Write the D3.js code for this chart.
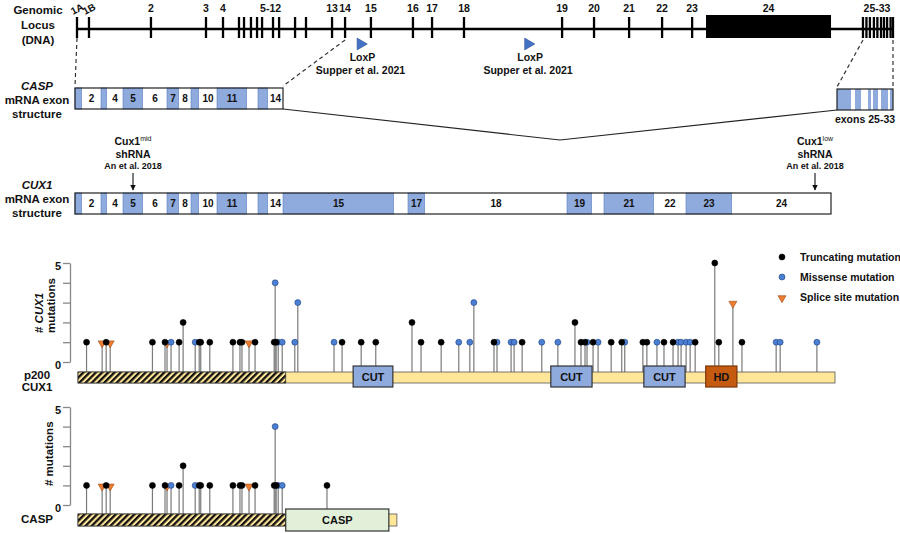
<!DOCTYPE html>
<html><head><meta charset="utf-8">
<script src="https://cdn.jsdelivr.net/npm/d3@7"></script>
<style>
body{margin:0;background:#fff}
svg text{font-family:"Liberation Sans",Arial,sans-serif;font-weight:bold;fill:#111}
</style>
</head><body>
<svg id="c" width="900" height="533"></svg>
<script>
// ---------------- DATA ----------------
// Genomic locus (kb from exon 1A)
const genomicLength = 470;
const genomicExonTicks = [0, 6.9, 42.6, 74.3, 84.1, 93.3, 96.2, 100.2, 103.7, 106.6, 112.9, 116.4, 125.6, 131.9,
  146.9, 154.4, 169.3, 193.5, 204.5, 222.9, 279.4, 297.8, 318.0, 337.0, 354.3];
const genomicExon24 = [362.3, 434.3];
const genomicExons25to33 = [452.7, 454.7, 456.7, 459.0, 461.0, 463.1, 464.8, 466.6, 468.6, 470];
const genomicLabels = [
  {t:"1A", kb:0, rot:true}, {t:"1B", kb:6.9, rot:true}, {t:"2", kb:42.6}, {t:"3", kb:74.3}, {t:"4", kb:84.1},
  {t:"5-12", kb:111.5}, {t:"13", kb:146.9}, {t:"14", kb:154.4}, {t:"15", kb:169.3}, {t:"16", kb:193.5},
  {t:"17", kb:204.5}, {t:"18", kb:222.9}, {t:"19", kb:279.4}, {t:"20", kb:297.8}, {t:"21", kb:318.0},
  {t:"22", kb:337.0}, {t:"23", kb:354.3}, {t:"24", kb:398.3}, {t:"25-33", kb:460.8}];
const loxPSites = [163.3, 259.8];
const loxPLabel = ["LoxP", "Supper et al. 2021"];

// mRNA exon structure (transcript units); exon i spans bounds[i-1]..bounds[i]
const exonBounds = [0, 7, 26, 32, 48, 68, 92, 104, 116, 124, 142, 172, 183, 193, 208,
  319, 333, 350, 492, 517, 529, 579, 611, 657, 756];
const caspExonCount = 14;
const cux1ExonCount = 24;
const labelledExons = [2, 4, 5, 6, 7, 8, 10, 11, 14, 15, 17, 18, 19, 21, 22, 23, 24];
const caspExons25to33Bounds = [762, 776, 780, 786, 793, 796, 798, 803, 806, 813, 815, 818];
const transcriptMax = 818;
const shRNAs = [{sup:"mid", pos:58}, {sup:"low", pos:740}];

// Proteins (amino acids)
const cux1Length = 1505;
const sharedRegionEnd = 413;
const cux1Domains = [{n:"CUT", s:547, e:626}, {n:"CUT", s:940, e:1022}, {n:"CUT", s:1125, e:1207}, {n:"HD", s:1248, e:1310}];
const caspLength = 634;
const caspDomains = [{n:"CASP", s:413, e:618}];

// Mutations: [aa position, count, type]  T=truncating, M=missense, S=splice
const cux1Mutations = [
  [17,1,"T"],[48,1,"S"],[56,1,"T"],[64,1,"S"],[148,1,"T"],[177,1,"S"],[173,1,"T"],[185,1,"M"],[201,1,"T"],
  [209,2,"T"],[233,1,"M"],[241,1,"T"],[244,1,"T"],[262,1,"T"],[308,1,"T"],[322,1,"T"],[326,1,"T"],[340,1,"S"],
  [352,1,"T"],[392,4,"M"],[398,1,"M"],[390,1,"T"],[394,1,"T"],[406,1,"M"],[431,1,"M"],[437,3,"M"],[509,1,"M"],
  [525,1,"T"],[563,1,"T"],[592,1,"T"],[664,2,"T"],[682,1,"T"],[722,1,"T"],[757,1,"M"],[779,1,"M"],[787,3,"M"],
  [827,1,"T"],[833,1,"M"],[861,1,"M"],[867,1,"M"],[883,1,"T"],[922,1,"M"],[954,1,"M"],[988,2,"T"],[1000,1,"T"],
  [1012,1,"M"],[1008,1,"T"],[1024,1,"T"],[1034,1,"M"],[1060,1,"T"],[1087,1,"M"],[1081,1,"T"],[1123,1,"T"],
  [1131,1,"T"],[1151,1,"M"],[1165,1,"T"],[1193,1,"M"],[1199,1,"M"],[1209,1,"M"],[1217,1,"M"],[1183,1,"T"],
  [1227,1,"T"],[1266,5,"T"],[1274,1,"T"],[1302,3,"S"],[1320,1,"T"],[1388,1,"M"],[1396,1,"M"],[1469,1,"M"]];
const caspOnlyMutations = [[495,1,"T"]];
const mutationTypes = [{k:"T", label:"Truncating mutation"}, {k:"M", label:"Missense mutation"}, {k:"S", label:"Splice site mutation"}];
const yTicks = [0, 1, 2, 3, 4, 5];

// ---------------- DRAWING ----------------
const svg = d3.select("#c");
const C = {blue:"#8faadc", missense:"#4a7fd4", splice:"#ed7d31", yellow:"#ffe699", hd:"#c55a11", casp:"#e2f0d9", stem:"#7a7a7a"};

const defs = svg.append("defs");
const pat = defs.append("pattern").attr("id","hatch").attr("patternUnits","userSpaceOnUse")
  .attr("width",4.4).attr("height",4.4).attr("patternTransform","rotate(45)");
pat.append("rect").attr("width",4.4).attr("height",4.4).attr("fill",C.yellow);
pat.append("rect").attr("width",2.3).attr("height",4.4).attr("fill","#111");

// ---- genomic locus
const gx = d3.scaleLinear().domain([0, genomicLength]).range([77, 893]);
const gY = 29;
const gG = svg.append("g");
gG.append("line").attr("x1",gx(0)).attr("x2",gx(genomicLength)).attr("y1",gY).attr("y2",gY).attr("stroke","#000").attr("stroke-width",2.6);
gG.selectAll(".gt").data(genomicExonTicks.concat(genomicExons25to33)).join("line")
  .attr("x1",d=>gx(d)).attr("x2",d=>gx(d)).attr("y1",17).attr("y2",38).attr("stroke","#000").attr("stroke-width",2.3);
gG.append("rect").attr("x",gx(genomicExon24[0])).attr("width",gx(genomicExon24[1])-gx(genomicExon24[0]))
  .attr("y",15).attr("height",23).attr("fill","#000");
gG.selectAll(".gl").data(genomicLabels).join("text")
  .attr("font-size",d=>d.rot?10:10.5)
  .attr("text-anchor",d=>d.rot?"start":"middle")
  .attr("transform",d=>d.rot?`translate(${gx(d.kb)-4},15) rotate(-28)`:`translate(${gx(d.kb)},12)`)
  .text(d=>d.t);
// LoxP
const tri = d3.symbol().type(d3.symbolTriangle).size(60);
gG.selectAll(".lox").data(loxPSites).join("path").attr("d",tri)
  .attr("transform",d=>`translate(${gx(d)},44) rotate(90)`).attr("fill","#4472c4").attr("stroke","#2f528f").attr("stroke-width",0.6);
loxPSites.forEach(s=>{
  gG.append("text").attr("x",gx(s)+2).attr("y",61).attr("text-anchor","middle").attr("font-size",10.5).text(loxPLabel[0]);
  gG.append("text").attr("x",gx(s)).attr("y",74).attr("text-anchor","middle").attr("font-size",10.5).text(loxPLabel[1]);
});
// left labels
[["Genomic",14],["Locus",29],["(DNA)",44]].forEach(([t,y])=>svg.append("text").attr("x",38).attr("y",y).attr("text-anchor","middle").attr("font-size",11.5).text(t));

// ---- mRNA
const tx = d3.scaleLinear().domain([0, transcriptMax]).range([75, 893]);
const exons = d3.range(1, cux1ExonCount+1).map(n=>({n, s:exonBounds[n-1], e:exonBounds[n], blue:n%2===1}));
function drawTranscript(count, y0, h){
  const g = svg.append("g");
  const ex = exons.slice(0, count);
  g.selectAll("rect").data(ex).join("rect")
    .attr("x",d=>tx(d.s)).attr("width",d=>tx(d.e)-tx(d.s)).attr("y",y0).attr("height",h)
    .attr("fill",d=>d.blue?C.blue:"#fff").attr("stroke",d=>d.blue?"#5b7fbf":"none").attr("stroke-width",0.6);
  g.append("rect").attr("x",tx(0)).attr("width",tx(ex[ex.length-1].e)-tx(0)).attr("y",y0).attr("height",h)
    .attr("fill","none").attr("stroke","#222").attr("stroke-width",1.2);
  g.selectAll("text").data(ex.filter(d=>labelledExons.includes(d.n))).join("text")
    .attr("x",d=>tx((d.s+d.e)/2)).attr("y",y0+h/2+3.6).attr("text-anchor","middle").attr("font-size",10).text(d=>d.n);
}
const caspY = 88, cux1Y = 193, boxH = 21;
drawTranscript(caspExonCount, caspY, boxH);
drawTranscript(cux1ExonCount, cux1Y, boxH);
// exons 25-33 box
const sb = d3.range(caspExons25to33Bounds.length-1).map(i=>({s:caspExons25to33Bounds[i], e:caspExons25to33Bounds[i+1], blue:i%2===0}));
const sg = svg.append("g");
sg.selectAll("rect").data(sb).join("rect").attr("x",d=>tx(d.s)).attr("width",d=>tx(d.e)-tx(d.s)).attr("y",caspY+1).attr("height",boxH)
  .attr("fill",d=>d.blue?C.blue:"#fff");
sg.append("rect").attr("x",tx(caspExons25to33Bounds[0])).attr("width",tx(transcriptMax)-tx(caspExons25to33Bounds[0]))
  .attr("y",caspY+1).attr("height",boxH).attr("fill","none").attr("stroke","#222").attr("stroke-width",1.2);
sg.append("text").attr("x",(tx(caspExons25to33Bounds[0])+tx(transcriptMax))/2).attr("y",123).attr("text-anchor","middle").attr("font-size",10.5).text("exons 25-33");
// dashed connectors
const dash = [[gx(0),38,tx(0),caspY-2],[gx(154.4),40,tx(exonBounds[caspExonCount]),caspY-2],
  [gx(genomicExons25to33[0]),40,tx(caspExons25to33Bounds[0]),caspY-1],[gx(genomicLength),40,tx(transcriptMax),caspY-1]];
svg.selectAll(".dash").data(dash).join("line").attr("x1",d=>d[0]).attr("y1",d=>d[1]).attr("x2",d=>d[2]).attr("y2",d=>d[3])
  .attr("stroke","#333").attr("stroke-width",1.2).attr("stroke-dasharray","4,3");
// splice line
const xa = tx(exonBounds[caspExonCount]), xb = tx(caspExons25to33Bounds[0]);
svg.append("path").attr("d",`M${xa},${caspY+boxH} L${(xa+xb)/2},140 L${xb},${caspY+boxH+1}`).attr("fill","none").attr("stroke","#222").attr("stroke-width",1.1);
// left labels
function leftLabel(lines, x){
  lines.forEach(([t,y,it])=>svg.append("text").attr("x",x).attr("y",y).attr("text-anchor","middle").attr("font-size",11.5)
    .attr("font-style",it?"italic":"normal").text(t));
}
leftLabel([["CASP",90,true],["mRNA exon",104],["structure",118]], 37);
leftLabel([["CUX1",189,true],["mRNA exon",203],["structure",217]], 37);
// shRNA
defs.append("marker").attr("id","arr").attr("viewBox","0 0 10 10").attr("refX",9).attr("refY",5).attr("markerWidth",5).attr("markerHeight",5)
  .attr("orient","auto").append("path").attr("d","M0,0 L10,5 L0,10 z").attr("fill","#111");
shRNAs.forEach(s=>{
  const x = tx(s.pos);
  const t = svg.append("text").attr("x",x).attr("y",145).attr("text-anchor","middle").attr("font-size",10.5);
  t.append("tspan").text("Cux1");
  t.append("tspan").attr("dy",-4).attr("font-size",7).attr("font-weight","normal").text(s.sup);
  svg.append("text").attr("x",x).attr("y",158).attr("text-anchor","middle").attr("font-size",10.5).text("shRNA");
  svg.append("text").attr("x",x).attr("y",169).attr("text-anchor","middle").attr("font-size",9).text("An et al. 2018");
  svg.append("line").attr("x1",x).attr("x2",x).attr("y1",173).attr("y2",190).attr("stroke","#111").attr("stroke-width",1.1).attr("marker-end","url(#arr)");
});

// ---- Lollipop panels
const px = d3.scaleLinear().domain([0, cux1Length]).range([78, 835]);
const markerPath = {T: d3.symbol().type(d3.symbolCircle).size(28)(), M: d3.symbol().type(d3.symbolCircle).size(28)(),
  S: d3.symbol().type(d3.symbolTriangle).size(28)()};
function panel(opts){
  const y = d3.scaleLinear().domain([0,5]).range([opts.y0, opts.y5]);
  const g = svg.append("g");
  const ax = g.append("g").attr("transform","translate(70,0)")
    .call(d3.axisLeft(y).tickValues(yTicks).tickSize(7).tickSizeOuter(0).tickFormat(d=>(d===0||d===5)?d:""));
  ax.select(".domain").attr("stroke","#888").attr("stroke-width",1.3);
  ax.selectAll(".tick line").attr("stroke","#888").attr("stroke-width",1.3);
  ax.selectAll(".tick text").attr("font-size",11).attr("font-family","'Liberation Sans',Arial,sans-serif").attr("font-weight","bold").attr("fill","#111").attr("dy","0.55em").attr("x",-9);
  // stems
  const muts = opts.muts;
  g.selectAll(".stem").data(muts).join("line").attr("x1",d=>px(d[0])).attr("x2",d=>px(d[0]))
    .attr("y1",opts.barTop).attr("y2",d=>y(d[1])).attr("stroke",C.stem).attr("stroke-width",1.2);
  // protein bar
  g.append("rect").attr("x",px(0)).attr("width",px(opts.len)-px(0)).attr("y",opts.barTop).attr("height",opts.barH)
    .attr("fill",C.yellow).attr("stroke","#555").attr("stroke-width",0.8);
  g.append("rect").attr("x",px(0)).attr("width",px(sharedRegionEnd)-px(0)).attr("y",opts.barTop).attr("height",opts.barH)
    .attr("fill","url(#hatch)").attr("stroke","#333").attr("stroke-width",0.8);
  const dm = g.selectAll(".dom").data(opts.domains).join("g");
  dm.append("rect").attr("x",d=>px(d.s)).attr("width",d=>px(d.e)-px(d.s)).attr("y",opts.domTop).attr("height",opts.domH)
    .attr("fill",d=>d.n==="CUT"?C.blue:d.n==="HD"?C.hd:C.casp).attr("stroke",d=>d.n==="HD"?"#7a3508":"#333").attr("stroke-width",1.2);
  dm.append("text").attr("x",d=>px((d.s+d.e)/2)).attr("y",opts.domTop+opts.domH/2+4).attr("text-anchor","middle").attr("font-size",11).text(d=>d.n);
  // markers
  const order = {S:0, M:1, T:2};
  const sorted = muts.slice().sort((a,b)=>order[a[2]]-order[b[2]]);
  g.selectAll(".mk").data(sorted).join("path")
    .attr("d",d=>markerPath[d[2]])
    .attr("transform",d=>d[2]==="S"?`translate(${px(d[0])},${y(d[1])+1}) rotate(180)`:`translate(${px(d[0])},${y(d[1])})`)
    .attr("fill",d=>d[2]==="T"?"#000":d[2]==="M"?C.missense:C.splice)
    .attr("stroke",d=>d[2]==="T"?"#000":d[2]==="M"?"#1f3f7a":"#9c4a12").attr("stroke-width",0.6);
}
panel({y0:362, y5:263, barTop:372, barH:11, domTop:366, domH:21, len:cux1Length, domains:cux1Domains, muts:cux1Mutations});
const caspMutations = cux1Mutations.filter(d=>d[0] <= sharedRegionEnd).concat(caspOnlyMutations);
panel({y0:505, y5:407, barTop:514, barH:12, domTop:509, domH:22, len:caspLength, domains:caspDomains, muts:caspMutations});

// y labels
const yl1 = svg.append("text").attr("transform","translate(43,333) rotate(-90)").attr("font-size",11.5);
yl1.append("tspan").text("# ");
yl1.append("tspan").attr("font-style","italic").text("CUX1");
svg.append("text").attr("transform","translate(55,333) rotate(-90)").attr("font-size",11.5).text("mutations");
svg.append("text").attr("transform","translate(53,486) rotate(-90)").attr("font-size",11.5).text("# mutations");
leftLabel([["p200",379],["CUX1",391]], 37);
leftLabel([["CASP",523]], 37);

// legend
const lg = svg.append("g");
lg.selectAll("path").data(mutationTypes).join("path")
  .attr("d",d=>markerPath[d.k])
  .attr("transform",(d,i)=>d.k==="S"?`translate(782,${258+i*20}) rotate(180)`:`translate(782,${257+i*20})`)
  .attr("fill",d=>d.k==="T"?"#000":d.k==="M"?C.missense:C.splice)
  .attr("stroke",d=>d.k==="T"?"#000":d.k==="M"?"#1f3f7a":"#9c4a12").attr("stroke-width",0.6);
lg.selectAll("text").data(mutationTypes).join("text").attr("x",800).attr("y",(d,i)=>261+i*20).attr("font-size",10.5).text(d=>d.label);
</script>
</body></html>
